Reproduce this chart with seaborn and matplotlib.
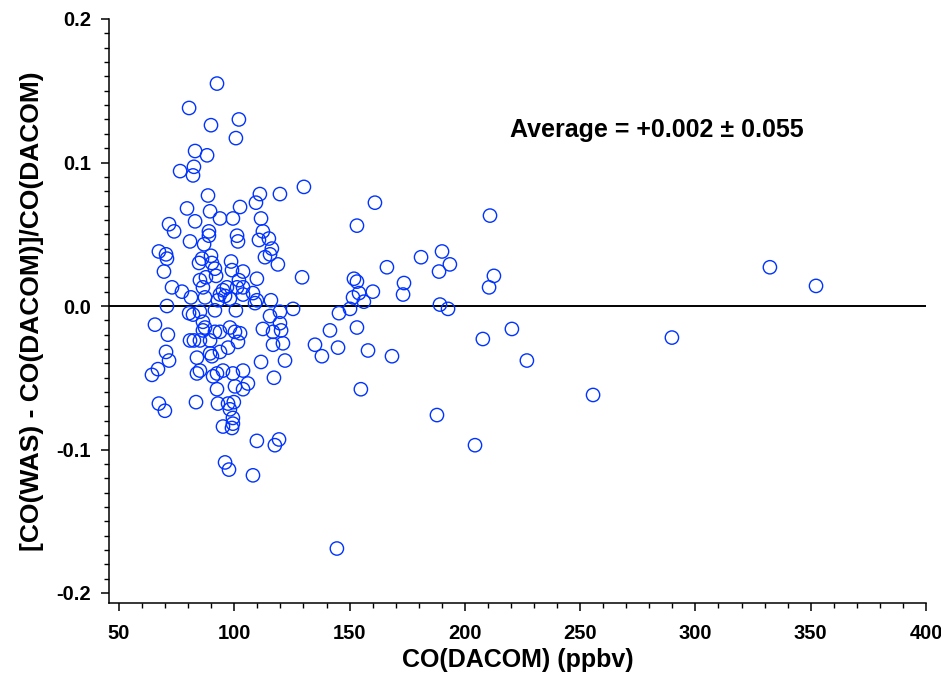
import numpy as np
import pandas as pd
import matplotlib
matplotlib.use("Agg")
import matplotlib.pyplot as plt
import seaborn as sns
from matplotlib.ticker import MultipleLocator

# CO(DACOM) in ppbv
co_dacom = [
    92.5, 80.4, 102.0, 89.9, 100.7, 83.0, 88.2, 82.5, 76.5, 82.1,
    130.2, 88.6, 111.1, 119.8, 109.4, 102.5, 79.5, 89.5, 83.0, 71.7,
    73.9, 89.0, 89.0, 93.8, 99.4, 111.6, 112.4, 101.2, 101.6, 80.8,
    86.9, 110.7, 115.0, 116.3, 113.3, 115.5, 118.9, 67.3, 70.4, 70.8,
    89.9, 86.0, 84.7, 90.3, 98.6, 99.0, 103.8, 91.6, 92.1, 69.5,
    85.1, 73.0, 77.3, 86.4, 81.2, 87.3, 70.8, 109.8, 102.0, 101.2,
    103.8, 95.1, 96.8, 93.8, 103.8, 108.1, 109.8, 115.9, 129.4, 96.0,
    98.1, 92.9, 87.7,
    161.0, 153.2, 210.9, 181.0, 190.1, 193.5, 188.8, 166.2, 151.9, 153.2,
    173.6, 173.2, 160.1, 154.1, 151.5, 156.2, 212.6, 210.5, 189.2, 192.7,
    150.2, 145.4, 125.5, 119.8, 119.8, 120.3, 116.8, 121.1, 116.8, 122.0,
    117.2, 141.5, 153.2, 135.0, 138.0, 145.0, 158.0, 168.4, 154.9, 207.8,
    220.4, 226.9, 187.9, 204.4, 255.6, 289.8, 332.3, 352.3, 144.5,
    65.6, 71.2, 70.4, 71.7, 64.3, 66.9, 67.3, 69.9, 83.4, 80.4,
    82.1, 85.1, 86.4, 87.3, 80.8, 82.5, 85.1, 89.5, 91.6, 83.8,
    89.5, 90.3, 85.1, 83.8, 90.8, 92.5, 92.9, 91.6, 100.7, 109.0,
    115.5, 93.8, 98.1, 100.3, 102.5, 112.4, 101.6, 97.3, 93.8, 111.6,
    103.8, 99.4, 95.1, 92.5, 105.9, 100.3, 103.8, 97.3, 98.1, 99.4,
    95.1, 99.4, 99.0, 109.8, 117.6, 119.4, 96.0, 97.7, 108.1,
    86.4, 99.8,
]

# relative difference [CO(WAS) - CO(DACOM)]/CO(DACOM)
rel_diff = [
    0.155, 0.138, 0.130, 0.126, 0.117, 0.108, 0.105, 0.097, 0.094, 0.091,
    0.083, 0.077, 0.078, 0.078, 0.072, 0.069, 0.068, 0.066, 0.059, 0.057,
    0.052, 0.052, 0.049, 0.061, 0.061, 0.061, 0.052, 0.049, 0.045, 0.045,
    0.043, 0.046, 0.047, 0.040, 0.034, 0.036, 0.029, 0.038, 0.036, 0.033,
    0.035, 0.033, 0.030, 0.030, 0.031, 0.025, 0.024, 0.026, 0.021, 0.024,
    0.018, 0.013, 0.010, 0.013, 0.006, 0.006, 0.000, 0.019, 0.018, 0.013,
    0.013, 0.011, 0.013, 0.008, 0.008, 0.009, 0.004, 0.004, 0.020, 0.007,
    0.005, 0.004, 0.020,
    0.072, 0.056, 0.063, 0.034, 0.038, 0.029, 0.024, 0.027, 0.019, 0.017,
    0.016, 0.008, 0.010, 0.009, 0.006, 0.003, 0.021, 0.013, 0.001, -0.002,
    -0.002, -0.005, -0.002, -0.004, -0.012, -0.017, -0.018, -0.026, -0.027, -0.038,
    -0.050, -0.017, -0.015, -0.027, -0.035, -0.029, -0.031, -0.035, -0.058, -0.023,
    -0.016, -0.038, -0.076, -0.097, -0.062, -0.022, 0.027, 0.014, -0.169,
    -0.013, -0.020, -0.032, -0.038, -0.048, -0.044, -0.068, -0.073, -0.067, -0.005,
    -0.006, -0.004, -0.011, -0.015, -0.024, -0.024, -0.024, -0.024, -0.018, -0.036,
    -0.033, -0.035, -0.045, -0.047, -0.049, -0.058, -0.068, -0.003, -0.003, 0.002,
    -0.007, -0.018, -0.015, -0.018, -0.019, -0.016, -0.025, -0.029, -0.032, -0.039,
    -0.045, -0.047, -0.045, -0.047, -0.054, -0.056, -0.058, -0.068, -0.072, -0.078,
    -0.084, -0.082, -0.085, -0.094, -0.097, -0.093, -0.109, -0.114, -0.118,
    -0.017, -0.067,
]

x_ticks = [50, 100, 150, 200, 250, 300, 350, 400]
y_ticks = [-0.2, -0.1, 0.0, 0.1, 0.2]
y_tick_labels = ["-0.2", "-0.1", "0.0", "0.1", "0.2"]
annotation = "Average = +0.002 \u00b1 0.055"

df = pd.DataFrame({"CO(DACOM)": co_dacom, "rel": rel_diff})

sns.set_style("ticks")
plt.rcParams["font.family"] = ["Liberation Sans", "DejaVu Sans"]
plt.rcParams["font.weight"] = "bold"
plt.rcParams["axes.labelcolor"] = "black"
plt.rcParams["text.color"] = "black"

W, H = 941, 673
fig = plt.figure(figsize=(W / 100, H / 100), dpi=100)
ax = fig.add_axes([109 / W, (H - 603) / H, (926 - 109) / W, (603 - 19) / H])

sns.scatterplot(data=df, x="CO(DACOM)", y="rel", ax=ax,
                marker="o", s=92, facecolor="none", edgecolor="#0033FF",
                linewidth=1.0, legend=False, zorder=3)

ax.axhline(0, color="black", lw=1.4, zorder=2)

ax.set_xlim(50 - 10 / 2.306, 400)
ax.set_ylim(-0.2 - 10 / 1435, 0.2)

ax.set_xticks(x_ticks)
ax.set_xticklabels([str(t) for t in x_ticks])
ax.set_yticks(y_ticks)
ax.set_yticklabels(y_tick_labels)
ax.xaxis.set_minor_locator(MultipleLocator(10))
ax.yaxis.set_minor_locator(MultipleLocator(0.01))

ax.tick_params(which="major", direction="out", length=6, width=1.1,
               labelsize=14.5, color="black", labelcolor="black")
ax.tick_params(axis="x", which="major", pad=9)
ax.tick_params(axis="y", which="major", pad=7)
ax.tick_params(which="minor", direction="out", length=3.5, width=1.0, color="black")
for lab in ax.get_xticklabels() + ax.get_yticklabels():
    lab.set_fontweight("bold")

for side in ["top", "right"]:
    ax.spines[side].set_visible(False)
for side in ["left", "bottom"]:
    ax.spines[side].set_linewidth(1.1)
    ax.spines[side].set_color("black")

ax.set_xlabel("CO(DACOM) (ppbv)", fontsize=18, fontweight="bold",
              labelpad=4, color="black")
ax.set_ylabel("[CO(WAS) - CO(DACOM)]/CO(DACOM)", fontsize=19,
              fontweight="bold", labelpad=9, color="black")

ax.text(219.6, 0.1226, annotation, fontsize=18, fontweight="bold",
        ha="left", va="center", color="black")

fig.savefig("out.png", dpi=100)
